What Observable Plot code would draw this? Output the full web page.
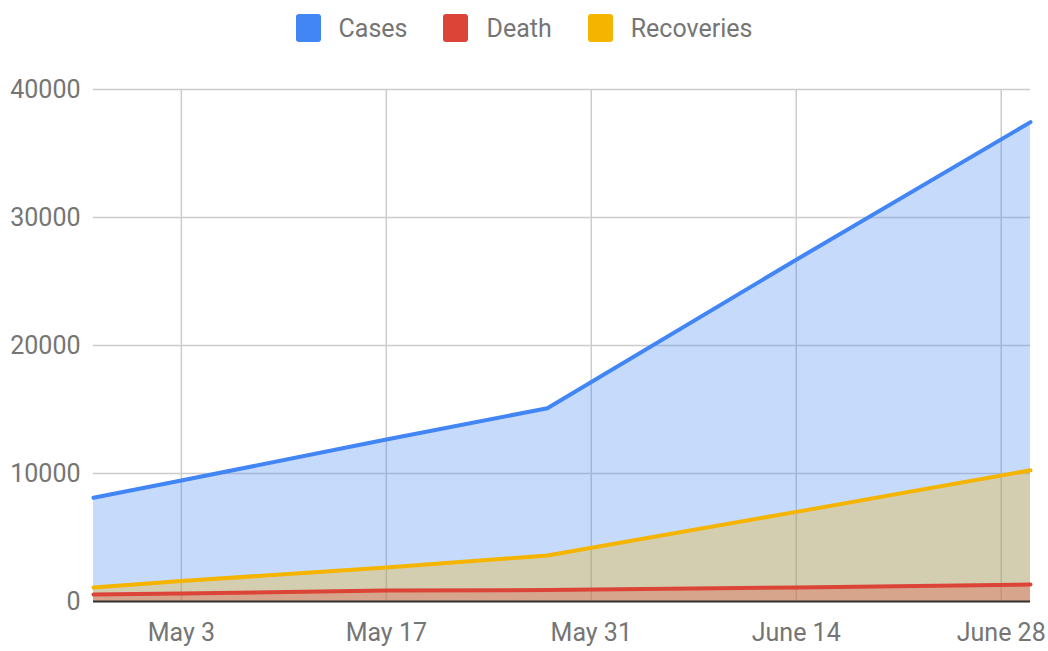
<!DOCTYPE html>
<html>
<head>
<meta charset="utf-8">
<script src="https://cdn.jsdelivr.net/npm/d3@7"></script>
<script src="https://cdn.jsdelivr.net/npm/@observablehq/plot@0.6"></script>
<style>
  html, body { margin: 0; padding: 0; background: #fff; }
  body { width: 1048px; height: 651px; overflow: hidden; font-family: Roboto, "Noto Sans", sans-serif; }
  #legend { height: 56px; display: flex; align-items: center; justify-content: center; padding-left: 0px; box-sizing: border-box; padding-top: 0px; }
  .item { display: flex; align-items: center; margin: 0 18px; font-size: 25px; color: #757575; }
  .sw { width: 25px; height: 28px; border-radius: 3px; margin-right: 18px; }
  #chart svg { display: block; }
</style>
</head>
<body>
<div id="legend"></div>
<div id="chart"></div>
<script>
// Data
const dates = ["2020-04-27", "2020-05-03", "2020-05-17", "2020-05-28", "2020-06-14", "2020-06-30"];
const cases = [8100, 9450, 12650, 15100, 26700, 37450];
const deaths = [550, 630, 850, 900, 1100, 1330];
const recoveries = [1100, 1600, 2650, 3600, 7000, 10250];
const seriesNames = ["Cases", "Death", "Recoveries"];
const seriesColors = ["#4285F4", "#DB4437", "#F4B400"];
const xTicks = ["2020-05-03", "2020-05-17", "2020-05-31", "2020-06-14", "2020-06-28"];
const yTicks = [0, 10000, 20000, 30000, 40000];

const parse = d3.utcParse("%Y-%m-%d");
const seriesValues = [cases, deaths, recoveries];
const rows = [];
seriesNames.forEach((name, i) => {
  dates.forEach((d, j) => rows.push({series: name, date: parse(d), value: seriesValues[i][j]}));
});
const bySeries = name => rows.filter(r => r.series === name);
const colorOf = name => seriesColors[seriesNames.indexOf(name)];

// Legend
const legend = document.getElementById("legend");
seriesNames.forEach((name, i) => {
  const it = document.createElement("div");
  it.className = "item";
  it.innerHTML = `<div class="sw" style="background:${seriesColors[i]}"></div><span>${name}</span>`;
  legend.appendChild(it);
});

const drawOrder = ["Cases", "Recoveries", "Death"];
const marks = [
  Plot.gridY(yTicks, {stroke: "#cccccc", strokeOpacity: 1, strokeWidth: 1.5}),
  Plot.gridX(xTicks.map(parse), {stroke: "#cccccc", strokeOpacity: 1, strokeWidth: 1.5}),
];
drawOrder.forEach(name => {
  marks.push(Plot.areaY(bySeries(name), {x: "date", y: "value", fill: colorOf(name), fillOpacity: 0.3}));
});
marks.push(Plot.ruleY([0], {stroke: "#333333", strokeWidth: 2}));
drawOrder.forEach(name => {
  marks.push(Plot.lineY(bySeries(name), {x: "date", y: "value", stroke: colorOf(name), strokeWidth: 4, strokeLinejoin: "round"}));
});
marks.push(Plot.axisY({ticks: yTicks, tickSize: 0, tickPadding: 13, tickFormat: d3.format("d"), fontSize: 25, color: "#757575", label: null}));
marks.push(Plot.axisX({ticks: xTicks.map(parse), tickSize: 0, tickPadding: 22, tickFormat: d3.utcFormat("%B %-d"), fontSize: 25, color: "#757575", label: null}));

const plot = Plot.plot({
  width: 1048,
  height: 595,
  marginTop: 33,
  marginBottom: 50,
  marginLeft: 93,
  marginRight: 18,
  style: {fontFamily: "Roboto, 'Noto Sans', sans-serif", background: "#fff", overflow: "visible"},
  x: {type: "utc", domain: [parse("2020-04-27"), parse("2020-06-30")]},
  y: {domain: [0, 40000]},
  marks
});
document.getElementById("chart").appendChild(plot);
</script>
</body>
</html>
